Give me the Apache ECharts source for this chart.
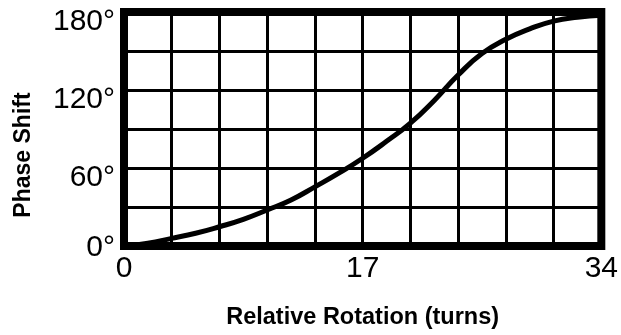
<!DOCTYPE html>
<html>
<head>
<meta charset="utf-8">
<script src="https://cdn.jsdelivr.net/npm/echarts@6/dist/echarts.min.js"></script>
<style>
  html, body { margin: 0; padding: 0; background: #fff; }
  #chart { width: 621px; height: 335px; }
</style>
</head>
<body>
<div id="chart"></div>
<script>
// Relative rotation in turns and the matching phase shift in degrees
const rotation = [0, 1.7, 3.4, 5.1, 6.8, 8.5, 10.2, 11.9, 13.6, 15.3, 17, 18.7, 20.4, 22.1, 23.8, 25.5, 27.2, 28.9, 30.6, 32.3, 34];
const phase    = [0, 2.2, 5.9, 9.8, 14.8, 20.5, 27.7, 35.4, 45.5, 56, 67.5, 80.5, 94.5, 112, 131.5, 148, 159, 167, 173, 176, 177.5];

// Labelled ticks
const xTickLabels = [0, 17, 34];
const yTickLabels = [0, 60, 120, 180];

const font = '"Liberation Sans", Arial, Helvetica, sans-serif';

const chart = echarts.init(document.getElementById('chart'), null, { renderer: 'canvas' });

chart.setOption({
  animation: false,
  backgroundColor: '#fff',
  grid: {
    left: 124, right: 16.5, top: 12, bottom: 89,
    show: true,
    borderColor: '#000',
    borderWidth: 8,
    z: 3
  },
  xAxis: {
    type: 'value',
    min: 0, max: 34, interval: 3.4,
    axisLine: { show: false },
    axisTick: { show: false },
    splitLine: { show: true, lineStyle: { color: '#000', width: 3 } },
    axisLabel: {
      margin: 8,
      color: '#000',
      fontFamily: font,
      fontSize: 30,
      formatter: v => {
        const hit = xTickLabels.find(t => Math.abs(t - v) < 1e-6);
        return hit === undefined ? '' : String(hit);
      }
    },
    name: 'Relative Rotation (turns)',
    nameLocation: 'middle',
    nameGap: 60,
    nameTextStyle: { color: '#000', fontFamily: font, fontWeight: 'bold', fontSize: 23.5 }
  },
  yAxis: {
    type: 'value',
    min: 0, max: 180, interval: 30,
    axisLine: { show: false },
    axisTick: { show: false },
    splitLine: { show: true, lineStyle: { color: '#000', width: 3 } },
    axisLabel: {
      margin: 9,
      color: '#000',
      fontFamily: font,
      fontSize: 30,
      formatter: v => {
        const hit = yTickLabels.find(t => Math.abs(t - v) < 1e-6);
        if (hit === undefined) return '';
        return (hit === 0 ? '{low|' : '{up|') + hit + '°}';
      },
      rich: {
        up: { fontFamily: font, fontSize: 30, color: '#000', padding: [19, 0, 0, 0] },
        low: { fontFamily: font, fontSize: 30, color: '#000', padding: [4, 0, 0, 0] }
      }
    },
    name: 'Phase Shift',
    nameLocation: 'middle',
    nameRotate: 90,
    nameGap: 89,
    nameTextStyle: { color: '#000', fontFamily: font, fontWeight: 'bold', fontSize: 23, padding: [0, 52, 0, 0] }
  },
  series: [{
    type: 'line',
    data: rotation.map((x, i) => [x, phase[i]]),
    smooth: 0.5,
    showSymbol: false,
    clip: false,
    z: 4,
    lineStyle: { color: '#000', width: 5, cap: 'round' }
  }]
});
</script>
</body>
</html>
